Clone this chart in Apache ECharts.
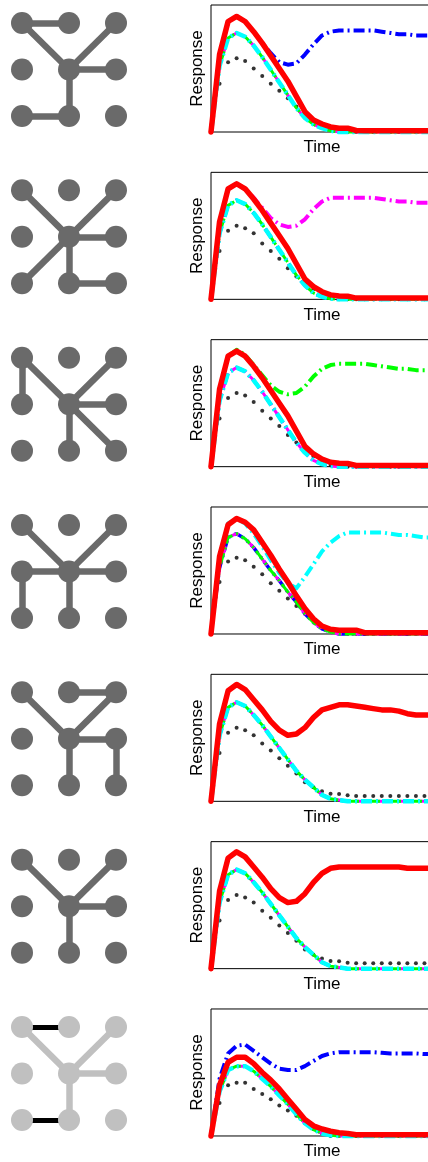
<!DOCTYPE html>
<html>
<head>
<meta charset="utf-8">
<script src="https://cdn.jsdelivr.net/npm/echarts@6/dist/echarts.min.js"></script>
<style>
html,body{margin:0;padding:0;background:#fff;overflow:hidden;}
#c{width:440px;height:1162px;}
</style>
</head>
<body>
<div id="c"></div>
<script>
// ---------- data ----------
const timeSteps = [0,1,2,3,4,5,6,7,8,9,10,11,12,13,14,15,16,17,18,19,20,21,22,23,24,25,26];

// node grid positions [column,row]
const nodes = [[0,0],[1,0],[2,0],[0,1],[1,1],[2,1],[0,2],[1,2],[2,2]];

const edges1 = [[0,1],[0,4],[2,4],[4,5],[4,7],[6,7]];
const edges2 = [[0,4],[2,4],[4,5],[4,6],[4,7],[7,8]];
const edges3 = [[0,3],[0,4],[2,4],[4,5],[4,7],[4,8]];
const edges4 = [[0,4],[2,4],[3,4],[4,5],[3,6],[4,7]];
const edges5 = [[0,4],[1,2],[2,4],[4,5],[5,8],[4,7]];
const edges6 = [[0,4],[2,4],[4,5],[4,7]];
const edges7 = [[0,4],[2,4],[4,5],[4,7]];
const edges7Highlighted = [[0,1],[6,7]];

// response curves (fraction of axis height)
const red1   = [0,0.61,0.87,0.91,0.87,0.79,0.70,0.60,0.50,0.40,0.28,0.16,0.095,0.063,0.04,0.03,0.03,0.012,0.01,0.01,0.01,0.01,0.01,0.01,0.01,0.01,0.01];
const black1 = [0,0.38,0.55,0.58,0.56,0.50,0.44,0.38,0.325,0.265,0.20,0.14,0.09,0.055,0.025,0.01,0,0,0,0,0,0,0,0,0,0,0];
const group1 = [0,0.52,0.74,0.78,0.75,0.68,0.59,0.49,0.39,0.29,0.19,0.11,0.06,0.03,0.01,0,0,0,0,0,0,0,0,0,0,0,0];
const blue1  = [0,0.61,0.87,0.91,0.87,0.79,0.70,0.62,0.55,0.53,0.54,0.61,0.69,0.76,0.79,0.80,0.80,0.80,0.80,0.80,0.79,0.78,0.77,0.77,0.76,0.76,0.76];

const red2     = [0,0.61,0.87,0.91,0.87,0.79,0.70,0.60,0.50,0.40,0.28,0.16,0.10,0.06,0.035,0.027,0.025,0.01,0.01,0.01,0.01,0.01,0.01,0.01,0.01,0.01,0.01];
const black2   = [0,0.38,0.54,0.58,0.56,0.52,0.44,0.38,0.32,0.245,0.18,0.126,0.08,0.034,0.013,0,0,0,0,0,0,0,0,0,0,0,0];
const group2   = [0,0.52,0.74,0.78,0.75,0.68,0.59,0.49,0.39,0.29,0.19,0.11,0.05,0.02,0.005,0,0,0,0,0,0,0,0,0,0,0,0];
const magenta2 = [0,0.61,0.87,0.91,0.87,0.80,0.72,0.64,0.59,0.57,0.58,0.63,0.71,0.77,0.80,0.80,0.80,0.80,0.80,0.80,0.79,0.78,0.77,0.77,0.76,0.76,0.76];

const red3   = [0,0.61,0.87,0.91,0.87,0.79,0.70,0.60,0.50,0.40,0.28,0.16,0.10,0.06,0.035,0.027,0.025,0.01,0.01,0.01,0.01,0.01,0.01,0.01,0.01,0.01,0.01];
const black3 = [0,0.38,0.54,0.58,0.56,0.51,0.44,0.38,0.32,0.25,0.19,0.13,0.08,0.04,0.015,0,0,0,0,0,0,0,0,0,0,0,0];
const group3 = [0,0.52,0.74,0.78,0.75,0.68,0.59,0.49,0.39,0.29,0.19,0.11,0.05,0.02,0.005,0,0,0,0,0,0,0,0,0,0,0,0];
const green3 = [0,0.61,0.87,0.92,0.88,0.80,0.72,0.64,0.59,0.57,0.58,0.63,0.71,0.77,0.80,0.81,0.81,0.81,0.81,0.80,0.79,0.78,0.77,0.77,0.76,0.76,0.76];

const red4   = [0,0.61,0.86,0.91,0.88,0.82,0.72,0.62,0.51,0.41,0.30,0.20,0.12,0.063,0.037,0.03,0.03,0.03,0.01,0.01,0.01,0.01,0.01,0.01,0.01,0.01,0.01];
const black4 = [0,0.41,0.57,0.60,0.58,0.53,0.47,0.40,0.34,0.28,0.22,0.16,0.11,0.063,0.03,0.01,0,0,0,0,0,0,0,0,0,0,0];
const group4 = [0,0.52,0.76,0.79,0.75,0.68,0.59,0.50,0.42,0.33,0.25,0.16,0.09,0.04,0.015,0,0,0,0,0,0,0,0,0,0,0,0];
const cyan4  = [0,0.61,0.87,0.91,0.87,0.79,0.69,0.58,0.48,0.40,0.36,0.45,0.55,0.65,0.72,0.77,0.80,0.80,0.80,0.80,0.80,0.79,0.78,0.78,0.77,0.76,0.76];

const red5   = [0,0.61,0.87,0.92,0.88,0.80,0.72,0.63,0.56,0.52,0.53,0.58,0.66,0.72,0.74,0.76,0.76,0.75,0.74,0.73,0.72,0.72,0.71,0.69,0.68,0.68,0.68];
const black5 = [0,0.38,0.54,0.58,0.56,0.52,0.455,0.40,0.34,0.28,0.22,0.15,0.11,0.08,0.06,0.058,0.047,0.042,0.042,0.042,0.042,0.042,0.042,0.042,0.042,0.042,0.042];
const group5 = [0,0.52,0.74,0.78,0.75,0.68,0.60,0.51,0.42,0.33,0.24,0.17,0.11,0.05,0.02,0.01,0,0,0,0,0,0,0,0,0,0,0];

const red6   = [0,0.61,0.87,0.92,0.88,0.80,0.72,0.63,0.56,0.52,0.53,0.59,0.68,0.75,0.79,0.80,0.80,0.80,0.80,0.80,0.80,0.80,0.80,0.79,0.79,0.79,0.79];
const black6 = [0,0.38,0.54,0.58,0.56,0.52,0.455,0.40,0.34,0.28,0.22,0.15,0.11,0.08,0.06,0.058,0.047,0.042,0.042,0.042,0.042,0.042,0.042,0.042,0.042,0.042,0.042];
const group6 = [0,0.52,0.74,0.78,0.75,0.68,0.60,0.51,0.42,0.33,0.24,0.17,0.11,0.05,0.02,0.01,0,0,0,0,0,0,0,0,0,0,0];

const red7   = [0,0.40,0.58,0.62,0.62,0.57,0.50,0.44,0.37,0.29,0.21,0.13,0.08,0.055,0.037,0.026,0.02,0.01,0.01,0.01,0.01,0.01,0.01,0.01,0.01,0.01,0.01];
const black7 = [0,0.26,0.40,0.42,0.42,0.37,0.33,0.29,0.24,0.20,0.16,0.10,0.055,0.02,0,0,0,0,0,0,0,0,0,0,0,0,0];
const group7 = [0,0.35,0.52,0.55,0.55,0.51,0.45,0.39,0.32,0.25,0.17,0.10,0.05,0.02,0.005,0,0,0,0,0,0,0,0,0,0,0,0];
const blue7  = [0,0.45,0.65,0.71,0.72,0.67,0.62,0.57,0.53,0.52,0.52,0.55,0.59,0.63,0.65,0.66,0.66,0.66,0.66,0.66,0.655,0.65,0.65,0.65,0.65,0.645,0.645];

// per row: which curves
const rows = [
  {edges: edges1, red: red1, black: black1, cyan: group1, green: group1, magenta: group1, blue: blue1, hero: 'blue'},
  {edges: edges2, red: red2, black: black2, cyan: group2, green: group2, magenta: magenta2, blue: group2, hero: 'magenta'},
  {edges: edges3, red: red3, black: black3, cyan: group3, green: green3, magenta: group3, blue: group3, hero: 'green'},
  {edges: edges4, red: red4, black: black4, cyan: cyan4, green: group4, magenta: group4, blue: group4, hero: 'cyan'},
  {edges: edges5, red: red5, black: black5, cyan: group5, green: group5, magenta: group5, blue: group5, hero: 'red'},
  {edges: edges6, red: red6, black: black6, cyan: group6, green: group6, magenta: group6, blue: group6, hero: 'red'},
  {edges: edges7, red: red7, black: black7, cyan: group7, green: group7, magenta: group7, blue: blue7, hero: 'blue', light: true}
];

// ---------- styling / layout ----------
const COLORS = {blue:'#0000ff', magenta:'#ff00ff', green:'#00ff00', cyan:'#00ffff'};
const WIDTHS = {blue:3.5, magenta:3, green:3, cyan:4.5};
const OFFSETS = {blue:0, magenta:6, green:13, cyan:0};
const DASH = [11,4,2,4];
const ROW_STEP = 167.33;
const FONT = 'Liberation Sans, Arial, Helvetica, sans-serif';

const grid = [], xAxis = [], yAxis = [], series = [];

rows.forEach((r, i) => {
  const top = 5 + i * ROW_STEP;
  // ---- network diagram ----
  const gi = grid.length;
  grid.push({left: 22, top: top + 18, width: 94, height: 93, show: false});
  xAxis.push({type:'value', gridIndex: gi, min:0, max:2, show:false});
  yAxis.push({type:'value', gridIndex: gi, min:0, max:2, inverse:true, show:false});
  const nodeColor = r.light ? '#c0c0c0' : '#6a6a6a';
  const links = r.edges.map(([s,t]) => ({source:s, target:t}));
  if (r.light) {
    edges7Highlighted.forEach(([s,t]) => links.push({source:s, target:t, lineStyle:{color:'#000', width:5}}));
  }
  series.push({
    type:'graph', coordinateSystem:'cartesian2d', xAxisIndex: gi, yAxisIndex: gi,
    symbol:'circle', symbolSize: 22, silent:true, animation:false,
    itemStyle:{color: nodeColor, opacity:1},
    lineStyle:{color: nodeColor, width: 6.5, opacity:1, curveness:0},
    label:{show:false},
    data: nodes.map(n => ({value: n})),
    links: links
  });

  // ---- response chart ----
  const ci = grid.length;
  grid.push({left: 211, top: top, width: 222, height: 127, show:true, borderColor:'#000', borderWidth:1, backgroundColor:'#fff'});
  xAxis.push({type:'value', gridIndex: ci, min:0, max:26, axisLine:{show:false}, axisTick:{show:false}, axisLabel:{show:false}, splitLine:{show:false},
    name:'Time', nameLocation:'middle', nameGap: 7, nameTextStyle:{fontFamily: FONT, fontSize:17, color:'#000'}});
  yAxis.push({type:'value', gridIndex: ci, min:0, max:1, axisLine:{show:false}, axisTick:{show:false}, axisLabel:{show:false}, splitLine:{show:false},
    name:'Response', nameLocation:'middle', nameGap: 5, nameTextStyle:{fontFamily: FONT, fontSize:17, color:'#000'}});

  const mk = vals => timeSteps.map((t,j) => [t, vals[j]]);
  const order = ['blue','magenta','green','cyan'].filter(k => k !== r.hero);
  if (r.hero !== 'red') order.push(r.hero);
  order.forEach(k => {
    const isHero = k === r.hero;
    series.push({type:'line', xAxisIndex: ci, yAxisIndex: ci, data: mk(r[k]), showSymbol:false, clip:false, silent:true, animation:false,
      lineStyle:{color: COLORS[k], width: isHero ? 4 : WIDTHS[k], type: DASH, dashOffset: OFFSETS[k], cap:'butt', join:'round'}});
  });
  series.push({type:'scatter', xAxisIndex: ci, yAxisIndex: ci, data: mk(r.black), symbol:'circle', symbolSize: 4, silent:true, animation:false, clip:false,
    itemStyle:{color:'#000'}});
  series.push({type:'line', xAxisIndex: ci, yAxisIndex: ci, data: mk(r.red), showSymbol:false, clip:false, silent:true, animation:false,
    lineStyle:{color:'#ff0000', width: 5.5, type:'solid', join:'round', cap:'round'}});
});

const chart = echarts.init(document.getElementById('c'), null, {renderer:'canvas'});
chart.setOption({animation:false, grid, xAxis, yAxis, series});
</script>
</body>
</html>
